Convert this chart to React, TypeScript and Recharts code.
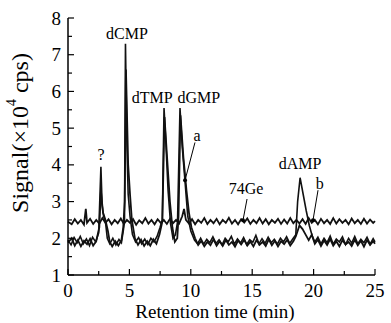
import { LineChart, Line, XAxis, YAxis, ReferenceDot, ReferenceLine } from "recharts";

const FONT = '"Liberation Serif", "Times New Roman", serif';

const timeTicks = [0, 2.5, 5, 7.5, 10, 12.5, 15, 17.5, 20, 22.5, 25];
const signalTicks = [1, 1.5, 2, 2.5, 3, 3.5, 4, 4.5, 5, 5.5, 6, 6.5, 7, 7.5, 8];

// 74Ge internal standard trace (upper baseline)
const geTrace: [number, number][] = [
  [0, 2.45], [0.3, 2.38], [0.55, 2.52], [0.8, 2.4], [1.05, 2.5], [1.3, 2.37], [1.45, 2.8], [1.55, 2.42],
  [1.8, 2.53], [2.05, 2.39], [2.3, 2.5], [2.55, 2.4], [2.8, 2.55], [3.05, 2.42], [3.3, 2.52], [3.55, 2.38],
  [3.8, 2.5], [4.05, 2.41], [4.3, 2.54], [4.55, 2.39], [4.8, 2.5], [5.05, 2.42], [5.3, 2.52], [5.55, 2.37],
  [5.8, 2.49], [6.05, 2.41], [6.3, 2.55], [6.55, 2.4], [6.8, 2.5], [7.05, 2.38], [7.3, 2.52], [7.55, 2.42],
  [7.8, 2.5], [8.05, 2.39], [8.3, 2.53], [8.55, 2.41], [8.8, 2.5], [9.05, 2.4], [9.3, 2.6], [9.45, 2.8],
  [9.6, 2.5], [9.85, 2.4], [10.1, 2.52], [10.35, 2.38], [10.6, 2.5], [10.85, 2.42], [11.1, 2.55], [11.35, 2.39],
  [11.6, 2.5], [11.85, 2.41], [12.1, 2.53], [12.35, 2.38], [12.6, 2.5], [12.85, 2.42], [13.1, 2.56], [13.35, 2.4],
  [13.6, 2.5], [13.85, 2.38], [14.1, 2.52], [14.35, 2.43], [14.6, 2.54], [14.85, 2.39], [15.1, 2.5], [15.35, 2.41],
  [15.6, 2.55], [15.85, 2.4], [16.1, 2.52], [16.35, 2.38], [16.6, 2.5], [16.85, 2.42], [17.1, 2.53], [17.35, 2.39],
  [17.6, 2.51], [17.85, 2.4], [18.1, 2.55], [18.35, 2.41], [18.6, 2.5], [18.85, 2.4], [19.1, 2.52], [19.35, 2.39],
  [19.6, 2.55], [19.85, 2.42], [20.1, 2.5], [20.35, 2.38], [20.6, 2.53], [20.85, 2.41], [21.1, 2.5], [21.35, 2.39],
  [21.6, 2.55], [21.85, 2.4], [22.1, 2.52], [22.35, 2.42], [22.6, 2.5], [22.85, 2.38], [23.1, 2.54], [23.35, 2.41],
  [23.6, 2.5], [23.85, 2.39], [24.1, 2.53], [24.35, 2.4], [24.6, 2.51], [24.85, 2.42], [25, 2.47],
];

// trace a
const traceA: [number, number][] = [
  [0, 1.95], [0.25, 1.82], [0.5, 2.02], [0.75, 1.88], [1.0, 2.05], [1.25, 1.85], [1.5, 1.98], [1.75, 1.8],
  [2.0, 2.03], [2.25, 1.9], [2.5, 2.15], [2.68, 3.95], [2.78, 2.9], [2.9, 2.6], [3.05, 2.45], [3.2, 2.0],
  [3.4, 1.85], [3.65, 2.0], [3.9, 1.82], [4.15, 1.97], [4.35, 1.88], [4.5, 2.2], [4.6, 2.45], [4.68, 7.3],
  [4.8, 4.5], [4.9, 3.2], [5.05, 2.6], [5.25, 2.1], [5.5, 1.9], [5.75, 2.02], [6.0, 1.85], [6.25, 1.98],
  [6.5, 1.83], [6.75, 2.0], [7.0, 1.9], [7.25, 2.05], [7.5, 2.3], [7.68, 2.5], [7.82, 5.55], [7.97, 4.6],
  [8.15, 3.3], [8.35, 2.4], [8.55, 2.0], [8.75, 2.1], [8.92, 2.45], [9.12, 5.55], [9.3, 4.5], [9.53, 3.55],
  [9.75, 2.6], [10.0, 2.2], [10.3, 1.95], [10.55, 1.85], [10.8, 2.0], [11.05, 1.84], [11.3, 1.97], [11.55, 1.88],
  [11.8, 2.04], [12.05, 1.86], [12.3, 1.96], [12.55, 1.82], [12.8, 2.0], [13.05, 1.9], [13.3, 2.05], [13.55, 1.84],
  [13.8, 1.98], [14.05, 1.87], [14.3, 2.02], [14.55, 1.83], [14.8, 1.96], [15.05, 1.89], [15.3, 2.08], [15.55, 1.85],
  [15.8, 1.99], [16.05, 1.86], [16.3, 2.03], [16.55, 1.88], [16.8, 1.97], [17.05, 1.84], [17.3, 2.0], [17.55, 1.9],
  [17.8, 2.04], [18.05, 1.86], [18.3, 1.98], [18.55, 2.1], [18.7, 3.0], [18.9, 3.65], [19.15, 3.2], [19.4, 2.75],
  [19.65, 2.35], [19.9, 2.05], [20.1, 1.9], [20.35, 2.03], [20.6, 1.85], [20.85, 2.0], [21.1, 1.88], [21.35, 2.06],
  [21.6, 1.84], [21.85, 1.98], [22.1, 1.9], [22.35, 2.04], [22.6, 1.83], [22.85, 2.0], [23.1, 1.87], [23.35, 2.05],
  [23.6, 1.85], [23.85, 1.97], [24.1, 1.88], [24.35, 2.03], [24.6, 1.84], [24.85, 1.99], [25, 1.9],
];

// trace b
const traceB: [number, number][] = [
  [0, 1.88], [0.3, 2.0], [0.55, 1.8], [0.8, 1.95], [1.05, 1.78], [1.3, 1.93], [1.55, 1.84], [1.8, 1.99],
  [2.05, 1.8], [2.3, 1.92], [2.55, 2.3], [2.68, 3.3], [2.85, 2.7], [3.05, 2.5], [3.25, 2.2], [3.4, 1.9],
  [3.6, 1.78], [3.85, 1.92], [4.1, 1.8], [4.35, 1.95], [4.5, 2.3], [4.62, 3.0], [4.72, 6.6], [4.9, 4.0],
  [5.05, 3.2], [5.2, 2.5], [5.45, 2.0], [5.7, 1.82], [5.95, 1.96], [6.2, 1.79], [6.45, 1.92], [6.7, 1.8],
  [6.95, 1.97], [7.2, 1.85], [7.45, 2.1], [7.68, 2.45], [7.86, 5.3], [8.05, 4.3], [8.3, 3.0], [8.5, 2.3],
  [8.7, 1.9], [8.9, 2.0], [9.0, 2.6], [9.16, 5.35], [9.4, 4.2], [9.65, 3.3], [9.85, 2.7], [10.05, 2.3],
  [10.35, 2.0], [10.6, 1.82], [10.85, 1.93], [11.1, 1.78], [11.35, 1.9], [11.6, 1.81], [11.85, 1.97], [12.1, 1.8],
  [12.35, 1.92], [12.6, 1.79], [12.85, 1.95], [13.1, 1.82], [13.35, 1.9], [13.6, 1.77], [13.85, 1.94], [14.1, 1.83],
  [14.35, 1.96], [14.6, 1.8], [14.85, 1.91], [15.1, 1.78], [15.35, 1.95], [15.6, 1.82], [15.85, 1.9], [16.1, 1.79],
  [16.35, 1.97], [16.6, 1.81], [16.85, 1.93], [17.1, 1.78], [17.35, 1.92], [17.6, 1.84], [17.85, 1.96], [18.1, 1.8],
  [18.35, 1.92], [18.55, 2.05], [18.85, 2.35], [19.1, 2.25], [19.35, 2.1], [19.6, 1.95], [19.85, 2.1], [20.1, 1.85],
  [20.35, 1.96], [20.6, 1.79], [20.85, 1.94], [21.1, 1.82], [21.35, 1.98], [21.6, 1.8], [21.85, 1.92], [22.1, 1.78],
  [22.35, 1.95], [22.6, 1.83], [22.85, 1.9], [23.1, 1.79], [23.35, 1.96], [23.6, 1.81], [23.85, 1.93], [24.1, 1.77],
  [24.35, 1.95], [24.6, 1.82], [24.85, 1.92], [25, 1.85],
];

// peak names and where their labels sit
const peakLabels: { text: string; t: number; v: number }[] = [
  { text: "?", t: 2.69, v: 4.29 },
  { text: "dCMP", t: 4.8, v: 7.58 },
  { text: "dTMP", t: 6.85, v: 5.84 },
  { text: "dGMP", t: 10.65, v: 5.84 },
  { text: "a", t: 10.5, v: 4.8 },
  { text: "74Ge", t: 14.5, v: 3.36 },
  { text: "dAMP", t: 18.9, v: 4.04 },
  { text: "b", t: 20.5, v: 3.5 },
];

const pointers: [number, number, number, number][] = [
  [10.34, 4.61, 9.53, 3.58],
  [14.58, 3.07, 14.25, 2.49],
  [20.36, 3.31, 19.95, 2.49],
];

const toRows = (pts: [number, number][]) => pts.map(([t, v]) => ({ t, v }));

const YTick = (props: any) => {
  const { x, y, payload } = props;
  const ax = x + 8;
  const major = Number.isInteger(payload.value);
  return (
    <g>
      <line x1={ax} x2={ax + (major ? 6 : 4)} y1={y} y2={y} stroke="#000" strokeWidth={1.2} />
      {major && (
        <text x={x + 1} y={y} dy={6.5} textAnchor="end" fontSize={19} fontFamily={FONT} fill="#000">
          {payload.value}
        </text>
      )}
    </g>
  );
};

const XTick = (props: any) => {
  const { x, y, payload } = props;
  const ay = y - 8;
  const major = payload.value % 5 === 0;
  return (
    <g>
      <line x1={x} x2={x} y1={ay} y2={ay - (major ? 6 : 4)} stroke="#000" strokeWidth={1.2} />
      {major && (
        <text x={x} y={y} dy={14} textAnchor="middle" fontSize={19} fontFamily={FONT} fill="#000">
          {payload.value}
        </text>
      )}
    </g>
  );
};

// axis titles, placed from the y axis viewBox
const Titles = (props: any) => {
  const vb = props.viewBox ?? { x: 0, y: 18, width: 67, height: 257 };
  const cy = vb.y + 115;
  const bottom = vb.y + vb.height;
  return (
    <g>
      <text
        x={20}
        y={cy}
        transform={`rotate(-90 20 ${cy})`}
        textAnchor="middle"
        dominantBaseline="central"
        fontSize={24}
        fontFamily={FONT}
        fill="#000"
      >
        Signal(×10<tspan dy={-9} fontSize={14}>4</tspan>
        <tspan dy={9}> cps)</tspan>
      </text>
      <text
        x={vb.x + vb.width + 147}
        y={bottom + 43}
        textAnchor="middle"
        fontSize={19}
        fontFamily={FONT}
        fill="#000"
      >
        Retention time (min)
      </text>
    </g>
  );
};

export default function App() {
  return (
    <div style={{ position: "absolute", left: 0, top: 0, width: 391, height: 323, background: "#fff" }}>
      <LineChart width={391} height={323} margin={{ top: 18, right: 16, bottom: 0, left: 0 }}>
        <XAxis
          dataKey="t"
          type="number"
          domain={[0, 25]}
          ticks={timeTicks}
          tick={<XTick />}
          tickLine={false}
          tickSize={6}
          tickMargin={2}
          height={48}
          axisLine={{ stroke: "#000", strokeWidth: 1.5 }}
          interval={0}
        />
        <YAxis
          type="number"
          domain={[1, 8]}
          allowDataOverflow
          ticks={signalTicks}
          tick={<YTick />}
          tickLine={false}
          tickSize={6}
          tickMargin={2}
          width={68}
          interval={0}
          axisLine={{ stroke: "#000", strokeWidth: 1.5 }}
          label={{ content: (p: any) => <Titles {...p} /> }}
        />
        <Line data={toRows(geTrace)} dataKey="v" stroke="#111" strokeWidth={1.8} dot={false} isAnimationActive={false} />
        <Line data={toRows(traceB)} dataKey="v" stroke="#111" strokeWidth={1.8} dot={false} isAnimationActive={false} />
        <Line data={toRows(traceA)} dataKey="v" stroke="#111" strokeWidth={1.6} dot={false} isAnimationActive={false} />
        {pointers.map(([t1, v1, t2, v2], i) => (
          <ReferenceLine
            key={"p" + i}
            segment={[{ x: t1, y: v1 }, { x: t2, y: v2 }]}
            stroke="#000"
            strokeWidth={1}
          />
        ))}
        {pointers.map(([, , t2, v2], i) => (
          <ReferenceDot key={"h" + i} x={t2} y={v2} r={2} fill="#000" stroke="none" />
        ))}
        {peakLabels.map((p) => (
          <ReferenceDot
            key={p.text}
            x={p.t}
            y={p.v}
            r={1}
            fill="none"
            stroke="none"
            label={{ value: p.text, position: "center", fontSize: 16, fontFamily: FONT, fill: "#000" }}
          />
        ))}
      </LineChart>
    </div>
  );
}
